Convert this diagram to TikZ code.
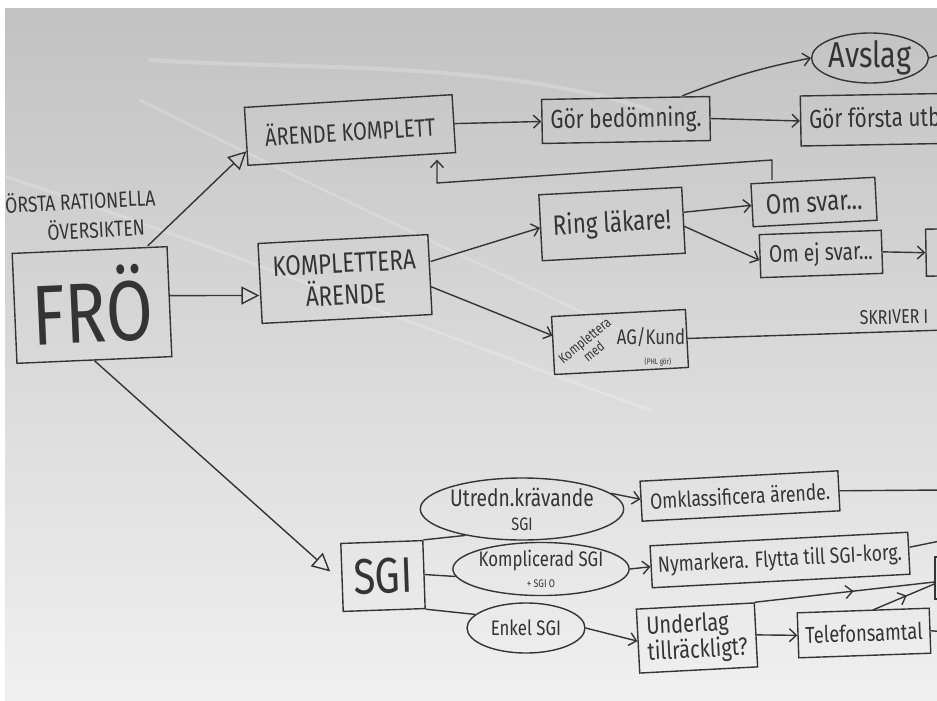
\documentclass[tikz,border=0pt]{standalone}
\usepackage{fontspec}
\newfontfamily\hand[FakeStretch=0.8]{Fira Sans}
\newcommand\handsz[2]{\hand\fontsize{#1}{#2}\selectfont}
\usetikzlibrary{arrows.meta,shapes.geometric,decorations.markings,calc}
\definecolor{ink}{RGB}{52,52,52}
\definecolor{papertop}{RGB}{194,194,194}
\definecolor{paperbot}{RGB}{240,240,240}
\begin{document}
\begin{tikzpicture}[x=1pt,y=-1pt,
 box/.style={draw=ink,line width=1.4pt,text=ink,inner sep=2pt,align=center},
 oval/.style={ellipse,draw=ink,line width=1.4pt,text=ink,inner sep=0pt,align=center},
 arr/.style={draw=ink,line width=1.4pt,-{Straight Barb[length=7pt,width=13pt]}},
 tri/.style={draw=ink,line width=1.4pt,-{Triangle[open,length=18pt,width=18pt]}},
 ln/.style={draw=ink,line width=1.4pt},
 midarr/.style={postaction={decorate},decoration={markings,mark=at position 0.55 with {\arrow{Straight Barb[length=7pt,width=13pt]}}}},
 lbl/.style={text=ink,inner sep=0pt},
]
\useasboundingbox (0,0) rectangle (937,701);
\fill[white] (0,0) rectangle (937,701);
\shade[top color=papertop,bottom color=paperbot] (5,9) rectangle (937,701);
\begin{scope}
\clip (5,9) rectangle (937,701);
% reflections
\begin{scope}[white,opacity=0.2,line cap=round]
\draw[line width=4pt] (150,60) .. controls (300,70) and (500,60) .. (650,110);
\draw[line width=3pt] (0,175) .. controls (200,240) and (400,320) .. (650,410);
\draw[line width=2.5pt] (140,100) .. controls (300,180) and (450,250) .. (620,330);
\end{scope}

% nodes
\node[box,rotate=2.5,minimum width=155pt,minimum height=110pt,font=\handsz{85}{90}] (fro) at (92,305) {FRÖ};
\node[lbl,rotate=3,font=\handsz{22}{24}] (title1) at (76,200) {FÖRSTA RATIONELLA};
\node[lbl,rotate=3,font=\handsz{22}{24}] (title2) at (96,228) {ÖVERSIKTEN};

\node[box,rotate=3.5,minimum width=208pt,minimum height=58pt,font=\handsz{25}{28}] (ak) at (350,130) {ÄRENDE KOMPLETT};
\node[box,rotate=3,minimum width=170pt,minimum height=80pt,font=\handsz{28}{32}] (ka) at (345,279) {KOMPLETTERA\\ÄRENDE};
\node[box,rotate=1,minimum width=168pt,minimum height=44pt,font=\handsz{26}{28}] (gb) at (626,120) {Gör bedömning.};
\node[oval,minimum width=116pt,minimum height=50pt,font=\handsz{36}{38}] (av) at (870,58) {Avslag};
\node[box,rotate=1,anchor=west,minimum width=200pt,minimum height=50pt] (gf) at (800,121) {};
\node[lbl,rotate=1,anchor=west,font=\handsz{26}{28}] (gft) at (809,121) {Gör första utbetalning};
\node[box,rotate=3,minimum width=143pt,minimum height=66pt,font=\handsz{28}{30}] (rl) at (612,224) {Ring läkare!};
\node[box,rotate=3,minimum width=134pt,minimum height=58pt] (km) at (620,342) {};
\node[lbl,rotate=39,align=center,font=\handsz{14}{13}] (kmt1) at (589,346) {Komplettera\\med};
\node[lbl,font=\handsz{21}{24}] (kmt3) at (651,337) {AG/Kund};
\node[lbl,font=\handsz{8}{9}] (kmt4) at (658,362) {(PHL gör)};
\node[box,rotate=3,minimum width=124pt,minimum height=43pt,font=\handsz{28}{30}] (os) at (814,202) {Om svar...};
\node[box,rotate=2,minimum width=122pt,minimum height=43pt,font=\handsz{24}{26}] (oe) at (821,254) {Om ej svar...};
\node[box,rotate=1,minimum width=80pt,minimum height=47pt] (rb) at (966,252) {};
\node[lbl,rotate=1,font=\handsz{20}{22}] (skr) at (894,317) {SKRIVER I};
\coordinate (skrend) at (945,330);

\node[box,rotate=2,minimum width=82pt,minimum height=68pt,font=\handsz{50}{54}] (sgi) at (383,576) {SGI};
\node[oval,minimum width=148pt,minimum height=62pt,font=\handsz{24}{24}] (ut) at (522,509) {Utredn.krävande\\{\handsz{18}{20}SGI}};
\node[oval,minimum width=158pt,minimum height=52pt,font=\handsz{21}{21}] (kp) at (541,569) {Komplicerad SGI\\{\handsz{11}{12}+ SGI O}};
\node[oval,minimum width=118pt,minimum height=50pt,font=\handsz{21}{24}] (ek) at (526,628) {Enkel SGI};
\node[box,rotate=3,minimum width=198pt,minimum height=40pt,font=\handsz{22}{24}] (om) at (740,496) {Omklassificera ärende.};
\node[box,rotate=3,minimum width=258pt,minimum height=42pt,font=\handsz{22}{24}] (ny) at (780,560) {Nymarkera. Flytta till SGI-korg.};
\node[box,rotate=3,minimum width=118pt,minimum height=64pt,align=left,font=\handsz{25}{26}] (ul) at (697,638) {Underlag\\tillräckligt?};
\node[box,rotate=2,minimum width=132pt,minimum height=45pt,font=\handsz{23}{24}] (tf) at (864,633) {Telefonsamtal};
\node[box,minimum width=100pt,minimum height=42pt] (rb2) at (985,578) {};

\coordinate (avout) at (945,53);
\coordinate (omout) at (945,490);
\coordinate (nyout) at (945,540);
\coordinate (tfout) at (945,632);
\coordinate (fb1) at (772,160);
\coordinate (fb2) at (437,183);

% connectors
\draw[tri] ([xshift=-20pt]fro.north east) -- ($(ak.west)!0.5!(ak.south west)$);
\draw[tri] ([yshift=6pt]fro.east) -- ([yshift=-12pt]ka.west);
\draw[tri,shorten >=15pt] (fro.south) -- ([yshift=-4pt]sgi.west);
\draw[arr] (ak.east) -- (gb.west);
\draw[arr] ([xshift=-28pt]gb.north east) to[bend left=5] (av.west);
\draw[ln] (av.east) -- (avout);
\draw[arr] (gb.east) -- (gf.west);
\draw[arr] (os.north -| fb1) -- (fb1) -- (fb2) -- (fb2 |- ak.south);
\draw[arr] ([yshift=13pt]ka.east) -- (rl.west);
\draw[arr] ([yshift=-12pt]ka.east) -- ([yshift=10pt]km.west);
\draw[arr] ([yshift=8pt]rl.east) -- (os.west);
\draw[arr] ([yshift=-6pt]rl.east) -- ([yshift=-4pt]oe.west);
\draw[arr] (oe.east) -- (rb.west);
\draw[ln] (km.east) -- (skrend);
\draw[ln] (sgi.north east) -- (ut.205);
\draw[ln] (sgi.east) -- (kp.185);
\draw[ln] (sgi.south east) -- (ek.165);
\draw[arr] (ut.10) -- ([yshift=2pt]om.west);
\draw[ln] (om.east) -- (omout);
\draw[arr] (kp.east) -- (ny.west);
\draw[ln] ([yshift=6pt]ny.east) -- (nyout);
\draw[arr] (ek.east) -- (ul.west);
\draw[arr] (ul.east) -- (tf.west);
\draw[ln,midarr] (ul.north east) -- ([yshift=-4pt]rb2.west);
\draw[ln,midarr] ([xshift=10pt]tf.north) -- ([yshift=-6pt]rb2.west);
\draw[ln] (tf.east) -- (tfout);
\end{scope}
\end{tikzpicture}
\end{document}
